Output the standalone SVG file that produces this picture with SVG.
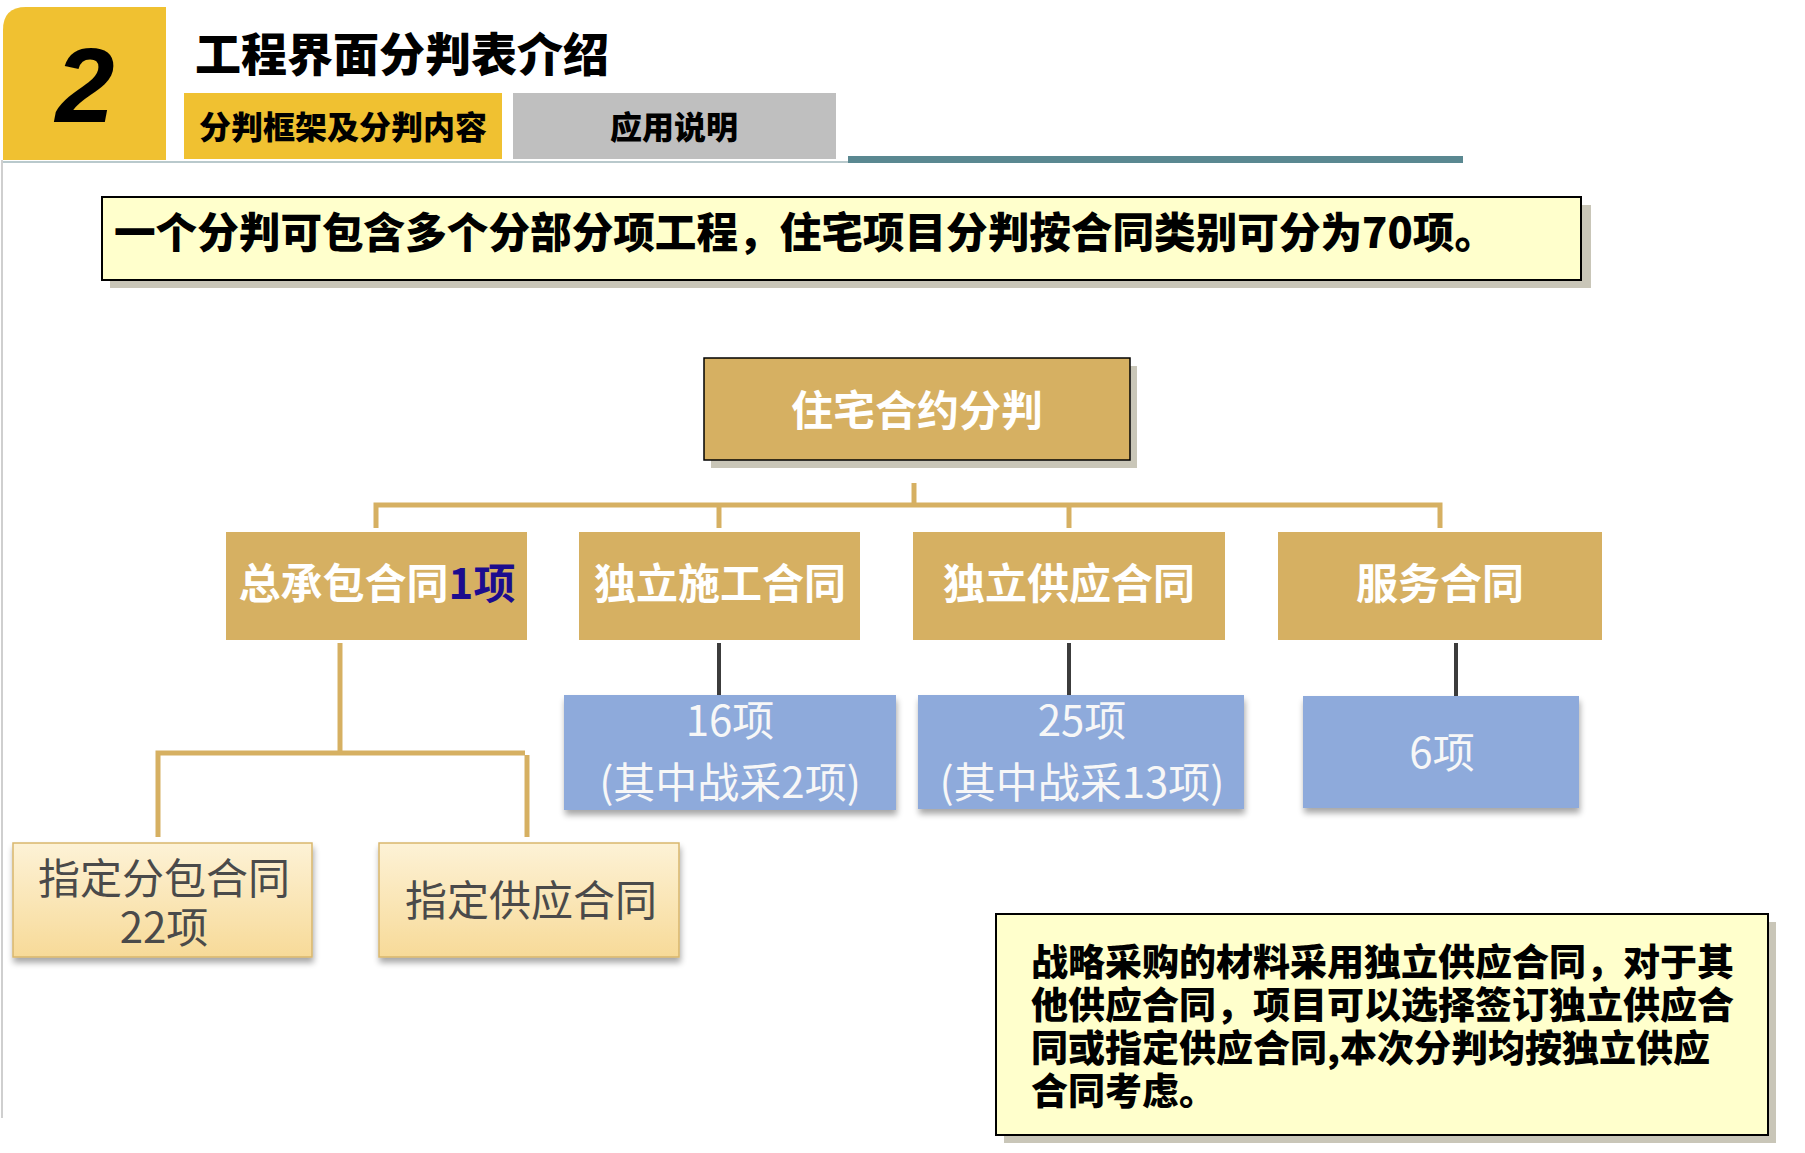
<svg xmlns="http://www.w3.org/2000/svg" width="1805" height="1153" viewBox="0 0 1805 1153">
<defs>
<linearGradient id="lightGrad" x1="0" y1="0" x2="0" y2="1">
<stop offset="0" stop-color="#fdf2d6"/>
<stop offset="1" stop-color="#f7da98"/>
</linearGradient>
<filter id="softShadow" x="-10%" y="-10%" width="120%" height="130%">
<feGaussianBlur in="SourceAlpha" stdDeviation="3"/>
<feOffset dx="1" dy="5" result="b"/>
<feComponentTransfer><feFuncA type="linear" slope="0.35"/></feComponentTransfer>
<feMerge><feMergeNode/><feMergeNode in="SourceGraphic"/></feMerge>
</filter>
</defs>
<style>
.cjk{font-family:"Noto Sans CJK SC","Liberation Sans",sans-serif;}
.heavy{font-weight:900;fill:#000;}
.gold{fill:#d6b062;}
.wt{fill:#ffffff;font-weight:700;font-size:42px;text-anchor:middle;}
.bl{fill:#8eaadb;}
.btx{fill:#f7f7f7;font-weight:400;font-size:42px;text-anchor:middle;}
.lt{fill:url(#lightGrad);stroke:#d9b66c;stroke-width:1.5;}
.ltx{fill:#4a4a4a;font-weight:400;font-size:42px;text-anchor:middle;}
.note{fill:#ffffcc;stroke:#000;stroke-width:2;}
.shd{fill:#c9c6b8;}
.gl{stroke:#d6b062;stroke-width:5;fill:none;}
.dl{stroke:#3c3c3c;stroke-width:4;fill:none;}
</style>
<rect width="1805" height="1153" fill="#ffffff"/>
<line x1="2" y1="160" x2="2" y2="1118" stroke="#cfcfcf" stroke-width="2"/>

<g id="header">
<path d="M3 30 Q3 7 26 7 L166 7 L166 160 L3 160 Z" fill="#f0c131"/>
<text x="85" y="122" font-family="Liberation Sans, sans-serif" font-weight="700" font-style="italic" font-size="106" text-anchor="middle" fill="#000">2</text>
<text class="cjk" x="195" y="71" font-size="46" font-weight="900" fill="#000">工程界面分判表介绍</text>
<rect x="184" y="93" width="318" height="66" fill="#f0c131"/>
<text class="cjk" x="343" y="139" font-size="32" font-weight="900" text-anchor="middle" fill="#000">分判框架及分判内容</text>
<rect x="513" y="93" width="323" height="66" fill="#bfbfbf"/>
<text class="cjk" x="674" y="139" font-size="32" font-weight="900" text-anchor="middle" fill="#000">应用说明</text>
<line x1="3" y1="162" x2="848" y2="162" stroke="#b9c9cc" stroke-width="2"/>
<rect x="848" y="156" width="615" height="7" fill="#5a8891"/>
</g>

<g id="banner">
<rect class="shd" x="110" y="205" width="1481" height="83"/>
<rect class="note" x="102" y="197" width="1479" height="83"/>
<text class="cjk heavy" x="114" y="248" font-size="42" textLength="1382" lengthAdjust="spacingAndGlyphs">一个分判可包含多个分部分项工程，住宅项目分判按合同类别可分为70项。</text>
</g>

<g id="connectors">
<line class="gl" x1="914" y1="483" x2="914" y2="505"/>
<polyline class="gl" points="376,528 376,505 1440,505 1440,528"/>
<line class="gl" x1="719" y1="505" x2="719" y2="528"/>
<line class="gl" x1="1069" y1="505" x2="1069" y2="528"/>
<line class="gl" x1="340" y1="643" x2="340" y2="753"/>
<polyline class="gl" points="158,837 158,753 525,753"/>
<line class="gl" x1="527" y1="755" x2="527" y2="837"/>
<line class="dl" x1="719" y1="643" x2="719" y2="695"/>
<line class="dl" x1="1069" y1="643" x2="1069" y2="695"/>
<line class="dl" x1="1456" y1="643" x2="1456" y2="697"/>
</g>

<g id="node-root">
<rect class="shd" x="711" y="366" width="426" height="102"/>
<rect x="704" y="358" width="426" height="102" fill="#d6b062" stroke="#000" stroke-width="1.5"/>
<text class="cjk wt" x="917" y="426">住宅合约分判</text>
</g>

<g id="node-general">
<rect class="gold" x="226" y="532" width="301" height="108"/>
<text class="cjk wt" x="377" y="599">总承包合同<tspan fill="#1c0c8e">1项</tspan></text>
</g>
<g id="node-construction">
<rect class="gold" x="579" y="532" width="281" height="108"/>
<text class="cjk wt" x="720" y="599">独立施工合同</text>
</g>
<g id="node-supply">
<rect class="gold" x="913" y="532" width="312" height="108"/>
<text class="cjk wt" x="1069" y="599">独立供应合同</text>
</g>
<g id="node-service">
<rect class="gold" x="1278" y="532" width="324" height="108"/>
<text class="cjk wt" x="1440" y="599">服务合同</text>
</g>

<g id="node-16">
<rect class="bl" x="564" y="695" width="332" height="115" filter="url(#softShadow)"/>
<text class="cjk btx" x="730" y="736">16项</text>
<text class="cjk btx" x="730" y="798">(其中战采2项)</text>
</g>
<g id="node-25">
<rect class="bl" x="918" y="695" width="326" height="114" filter="url(#softShadow)"/>
<text class="cjk btx" x="1082" y="736">25项</text>
<text class="cjk btx" x="1082" y="798">(其中战采13项)</text>
</g>
<g id="node-6">
<rect class="bl" x="1303" y="696" width="276" height="112" filter="url(#softShadow)"/>
<text class="cjk btx" x="1442" y="768">6项</text>
</g>

<g id="node-subcontract">
<rect class="lt" x="13" y="843" width="299" height="114" filter="url(#softShadow)"/>
<text class="cjk ltx" x="164" y="894">指定分包合同</text>
<text class="cjk ltx" x="164" y="943">22项</text>
</g>
<g id="node-designated-supply">
<rect class="lt" x="379" y="843" width="300" height="114" filter="url(#softShadow)"/>
<text class="cjk ltx" x="531" y="916">指定供应合同</text>
</g>

<g id="note">
<rect class="shd" x="1004" y="922" width="772" height="221"/>
<rect class="note" x="996" y="914" width="772" height="221"/>
<text class="cjk heavy" font-size="37">
<tspan x="1031" y="976">战略采购的材料采用独立供应合同，对于其</tspan>
<tspan x="1031" y="1019">他供应合同，项目可以选择签订独立供应合</tspan>
<tspan x="1031" y="1062">同或指定供应合同,本次分判均按独立供应</tspan>
<tspan x="1031" y="1105">合同考虑。</tspan>
</text>
</g>
</svg>
